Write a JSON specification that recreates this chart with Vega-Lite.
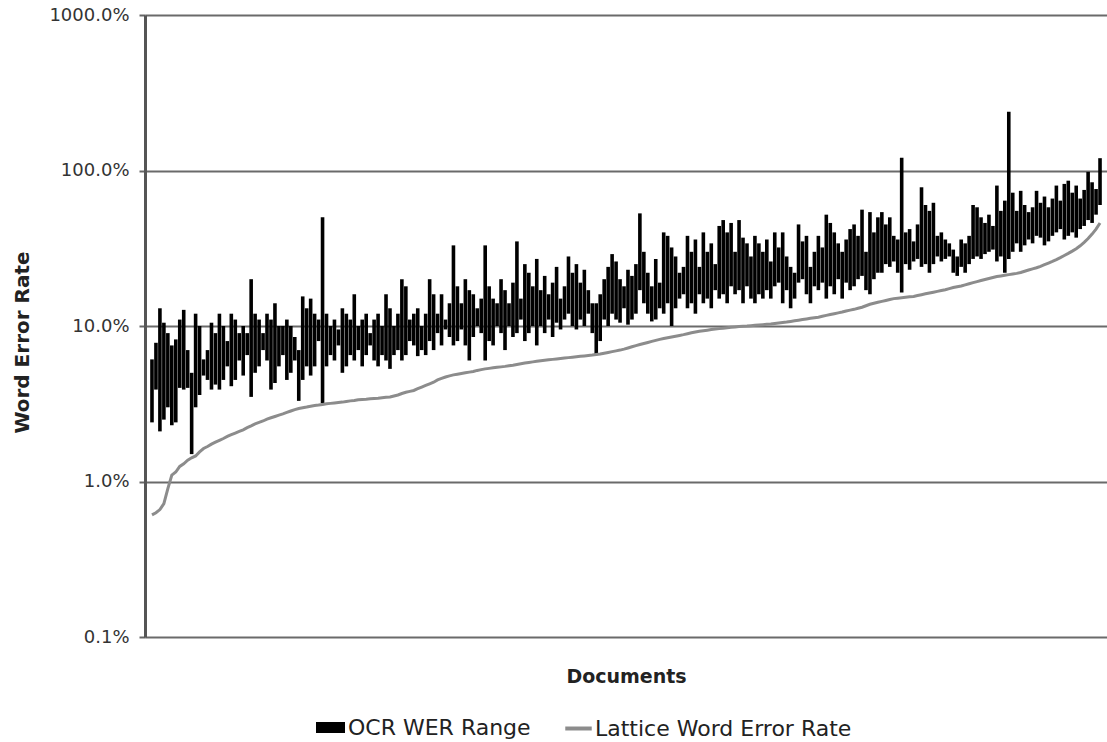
{
"$schema": "https://vega.github.io/schema/vega-lite/v6.json",
"width": 962, "height": 622,
"autosize": {"type": "none"},
"padding": {"left": 145, "top": 15, "right": 0, "bottom": 105},
"config": {"view": {"stroke": null}, "font": "DejaVu Sans"},
"data": {"values": [
{"d":1,"lat":0.61,"lo":2.4,"hi":6.1},{"d":2,"lat":0.63,"lo":3.9,"hi":7.8},{"d":3,"lat":0.66,"lo":2.1,"hi":13},{"d":4,"lat":0.72,"lo":2.5,"hi":10.5},{"d":5,"lat":0.9,"lo":3.0,"hi":9.0},
{"d":6,"lat":1.1,"lo":2.3,"hi":7.5},{"d":7,"lat":1.15,"lo":2.4,"hi":8.2},{"d":8,"lat":1.25,"lo":4.0,"hi":11},{"d":9,"lat":1.3,"lo":3.9,"hi":12.7},{"d":10,"lat":1.37,"lo":4.0,"hi":7.0},
{"d":11,"lat":1.42,"lo":1.5,"hi":5.0},{"d":12,"lat":1.46,"lo":3.0,"hi":12},{"d":13,"lat":1.55,"lo":3.6,"hi":10},{"d":14,"lat":1.63,"lo":4.8,"hi":6.1},{"d":15,"lat":1.68,"lo":4.5,"hi":7},
{"d":16,"lat":1.74,"lo":3.9,"hi":10.5},{"d":17,"lat":1.79,"lo":4.2,"hi":9},{"d":18,"lat":1.84,"lo":3.9,"hi":12},{"d":19,"lat":1.89,"lo":4.5,"hi":10},{"d":20,"lat":1.95,"lo":5.5,"hi":8},
{"d":21,"lat":2.0,"lo":4.1,"hi":12},{"d":22,"lat":2.05,"lo":4.5,"hi":11},{"d":23,"lat":2.1,"lo":6.0,"hi":9},{"d":24,"lat":2.15,"lo":4.8,"hi":10},{"d":25,"lat":2.22,"lo":6.5,"hi":9},
{"d":26,"lat":2.28,"lo":3.5,"hi":20},{"d":27,"lat":2.35,"lo":5.0,"hi":12},{"d":28,"lat":2.4,"lo":5.5,"hi":11},{"d":29,"lat":2.45,"lo":7.0,"hi":9},{"d":30,"lat":2.52,"lo":6.0,"hi":12},
{"d":31,"lat":2.57,"lo":3.9,"hi":11},{"d":32,"lat":2.62,"lo":4.3,"hi":14},{"d":33,"lat":2.67,"lo":5.5,"hi":10},{"d":34,"lat":2.72,"lo":6.5,"hi":10},{"d":35,"lat":2.78,"lo":4.5,"hi":11},
{"d":36,"lat":2.84,"lo":5.0,"hi":10},{"d":37,"lat":2.9,"lo":6.0,"hi":8.5},{"d":38,"lat":2.95,"lo":3.3,"hi":7},{"d":39,"lat":2.98,"lo":4.5,"hi":15.5},{"d":40,"lat":3.01,"lo":5.5,"hi":13},
{"d":41,"lat":3.05,"lo":4.8,"hi":15},{"d":42,"lat":3.08,"lo":5.5,"hi":12},{"d":43,"lat":3.1,"lo":8.0,"hi":11},{"d":44,"lat":3.13,"lo":3.2,"hi":50},{"d":45,"lat":3.16,"lo":5.5,"hi":12},
{"d":46,"lat":3.18,"lo":6.5,"hi":10},{"d":47,"lat":3.2,"lo":6.0,"hi":11},{"d":48,"lat":3.22,"lo":7.5,"hi":9.5},{"d":49,"lat":3.24,"lo":5.0,"hi":13},{"d":50,"lat":3.27,"lo":5.5,"hi":12},
{"d":51,"lat":3.3,"lo":6.5,"hi":11},{"d":52,"lat":3.32,"lo":6.0,"hi":16},{"d":53,"lat":3.35,"lo":7.0,"hi":10},{"d":54,"lat":3.37,"lo":5.5,"hi":11},{"d":55,"lat":3.38,"lo":6.5,"hi":12},
{"d":56,"lat":3.4,"lo":7.5,"hi":9},{"d":57,"lat":3.42,"lo":6.0,"hi":11},{"d":58,"lat":3.43,"lo":5.5,"hi":12},{"d":59,"lat":3.46,"lo":6.5,"hi":10},{"d":60,"lat":3.48,"lo":6.0,"hi":16},
{"d":61,"lat":3.5,"lo":5.3,"hi":13},{"d":62,"lat":3.55,"lo":6.5,"hi":10},{"d":63,"lat":3.6,"lo":7.0,"hi":12},{"d":64,"lat":3.68,"lo":6.0,"hi":20},{"d":65,"lat":3.75,"lo":6.5,"hi":18},
{"d":66,"lat":3.8,"lo":8.0,"hi":11},{"d":67,"lat":3.85,"lo":7.5,"hi":12},{"d":68,"lat":3.95,"lo":6.4,"hi":13},{"d":69,"lat":4.05,"lo":7.0,"hi":10},{"d":70,"lat":4.15,"lo":6.5,"hi":12},
{"d":71,"lat":4.25,"lo":8.0,"hi":20},{"d":72,"lat":4.35,"lo":7.0,"hi":16},{"d":73,"lat":4.5,"lo":9.0,"hi":12},{"d":74,"lat":4.6,"lo":7.5,"hi":16},{"d":75,"lat":4.7,"lo":9.5,"hi":11},
{"d":76,"lat":4.78,"lo":8.5,"hi":14},{"d":77,"lat":4.85,"lo":7.5,"hi":33},{"d":78,"lat":4.9,"lo":8.0,"hi":18},{"d":79,"lat":4.95,"lo":9.5,"hi":14},{"d":80,"lat":5.0,"lo":7.5,"hi":20},
{"d":81,"lat":5.05,"lo":6.0,"hi":17},{"d":82,"lat":5.1,"lo":8.5,"hi":16},{"d":83,"lat":5.18,"lo":10,"hi":13},{"d":84,"lat":5.24,"lo":9.0,"hi":15},{"d":85,"lat":5.3,"lo":6.0,"hi":33},
{"d":86,"lat":5.34,"lo":8.0,"hi":18},{"d":87,"lat":5.38,"lo":7.5,"hi":15},{"d":88,"lat":5.42,"lo":10,"hi":14},{"d":89,"lat":5.46,"lo":9.0,"hi":20},{"d":90,"lat":5.5,"lo":7.0,"hi":17},
{"d":91,"lat":5.55,"lo":10,"hi":14},{"d":92,"lat":5.6,"lo":8.5,"hi":19},{"d":93,"lat":5.66,"lo":9.0,"hi":35},{"d":94,"lat":5.72,"lo":11,"hi":15},{"d":95,"lat":5.78,"lo":8.0,"hi":25},
{"d":96,"lat":5.83,"lo":9.0,"hi":22},{"d":97,"lat":5.88,"lo":10,"hi":18},{"d":98,"lat":5.93,"lo":7.5,"hi":27},{"d":99,"lat":5.98,"lo":10,"hi":17},{"d":100,"lat":6.02,"lo":9.0,"hi":21},
{"d":101,"lat":6.06,"lo":11,"hi":16},{"d":102,"lat":6.1,"lo":8.5,"hi":19},{"d":103,"lat":6.14,"lo":10.5,"hi":24},{"d":104,"lat":6.18,"lo":9.5,"hi":15},{"d":105,"lat":6.22,"lo":11,"hi":18},
{"d":106,"lat":6.26,"lo":12,"hi":28},{"d":107,"lat":6.3,"lo":10,"hi":22},{"d":108,"lat":6.34,"lo":9.5,"hi":25},{"d":109,"lat":6.38,"lo":11,"hi":19},{"d":110,"lat":6.42,"lo":10,"hi":23},
{"d":111,"lat":6.46,"lo":12,"hi":17},{"d":112,"lat":6.5,"lo":9.0,"hi":14},{"d":113,"lat":6.55,"lo":6.5,"hi":14},{"d":114,"lat":6.6,"lo":8.0,"hi":16},{"d":115,"lat":6.68,"lo":11,"hi":20},
{"d":116,"lat":6.76,"lo":10,"hi":24},{"d":117,"lat":6.84,"lo":12,"hi":29},{"d":118,"lat":6.92,"lo":11,"hi":26},{"d":119,"lat":7.0,"lo":10.5,"hi":20},{"d":120,"lat":7.1,"lo":13,"hi":18},
{"d":121,"lat":7.22,"lo":10.2,"hi":23},{"d":122,"lat":7.35,"lo":11,"hi":21},{"d":123,"lat":7.48,"lo":12,"hi":25},{"d":124,"lat":7.6,"lo":17,"hi":53},{"d":125,"lat":7.72,"lo":14,"hi":30},
{"d":126,"lat":7.84,"lo":12,"hi":22},{"d":127,"lat":7.96,"lo":10.7,"hi":18},{"d":128,"lat":8.08,"lo":11,"hi":27},{"d":129,"lat":8.2,"lo":13,"hi":19},{"d":130,"lat":8.3,"lo":12,"hi":40},
{"d":131,"lat":8.4,"lo":14,"hi":38},{"d":132,"lat":8.5,"lo":10,"hi":32},{"d":133,"lat":8.6,"lo":13,"hi":28},{"d":134,"lat":8.7,"lo":15,"hi":22},{"d":135,"lat":8.8,"lo":16,"hi":24},
{"d":136,"lat":8.92,"lo":13,"hi":38},{"d":137,"lat":9.05,"lo":14,"hi":30},{"d":138,"lat":9.15,"lo":12,"hi":36},{"d":139,"lat":9.25,"lo":16,"hi":24},{"d":140,"lat":9.33,"lo":14,"hi":40},
{"d":141,"lat":9.4,"lo":15,"hi":30},{"d":142,"lat":9.48,"lo":13,"hi":34},{"d":143,"lat":9.55,"lo":17,"hi":25},{"d":144,"lat":9.62,"lo":15,"hi":44},{"d":145,"lat":9.68,"lo":16,"hi":48},
{"d":146,"lat":9.74,"lo":14,"hi":40},{"d":147,"lat":9.8,"lo":18,"hi":46},{"d":148,"lat":9.86,"lo":16,"hi":30},{"d":149,"lat":9.92,"lo":17,"hi":48},{"d":150,"lat":9.97,"lo":14,"hi":37},
{"d":151,"lat":10.0,"lo":18,"hi":34},{"d":152,"lat":10.05,"lo":15,"hi":28},{"d":153,"lat":10.1,"lo":14,"hi":38},{"d":154,"lat":10.15,"lo":16,"hi":34},{"d":155,"lat":10.2,"lo":15,"hi":30},
{"d":156,"lat":10.25,"lo":17,"hi":36},{"d":157,"lat":10.3,"lo":15,"hi":26},{"d":158,"lat":10.38,"lo":18,"hi":40},{"d":159,"lat":10.45,"lo":19,"hi":32},{"d":160,"lat":10.52,"lo":14,"hi":40},
{"d":161,"lat":10.6,"lo":17,"hi":28},{"d":162,"lat":10.7,"lo":13,"hi":24},{"d":163,"lat":10.8,"lo":15,"hi":22},{"d":164,"lat":10.9,"lo":19,"hi":45},{"d":165,"lat":11.0,"lo":20,"hi":35},
{"d":166,"lat":11.1,"lo":16,"hi":38},{"d":167,"lat":11.2,"lo":14,"hi":24},{"d":168,"lat":11.3,"lo":18,"hi":30},{"d":169,"lat":11.4,"lo":17,"hi":38},{"d":170,"lat":11.55,"lo":19,"hi":32},
{"d":171,"lat":11.7,"lo":15,"hi":52},{"d":172,"lat":11.85,"lo":18,"hi":46},{"d":173,"lat":12.0,"lo":16,"hi":40},{"d":174,"lat":12.15,"lo":20,"hi":34},{"d":175,"lat":12.3,"lo":15,"hi":30},
{"d":176,"lat":12.5,"lo":19,"hi":36},{"d":177,"lat":12.65,"lo":17,"hi":42},{"d":178,"lat":12.8,"lo":18,"hi":45},{"d":179,"lat":13.0,"lo":20,"hi":38},{"d":180,"lat":13.2,"lo":21,"hi":56},
{"d":181,"lat":13.5,"lo":17,"hi":30},{"d":182,"lat":13.8,"lo":16,"hi":54},{"d":183,"lat":14.0,"lo":20,"hi":40},{"d":184,"lat":14.2,"lo":22,"hi":50},{"d":185,"lat":14.4,"lo":22,"hi":54},
{"d":186,"lat":14.6,"lo":25,"hi":45},{"d":187,"lat":14.8,"lo":24,"hi":50},{"d":188,"lat":15.0,"lo":26,"hi":38},{"d":189,"lat":15.1,"lo":22,"hi":36},{"d":190,"lat":15.2,"lo":16.4,"hi":121},
{"d":191,"lat":15.3,"lo":25,"hi":40},{"d":192,"lat":15.4,"lo":23,"hi":42},{"d":193,"lat":15.5,"lo":26,"hi":35},{"d":194,"lat":15.7,"lo":27,"hi":45},{"d":195,"lat":15.9,"lo":24,"hi":78},
{"d":196,"lat":16.1,"lo":25,"hi":60},{"d":197,"lat":16.3,"lo":22,"hi":55},{"d":198,"lat":16.5,"lo":25,"hi":62},{"d":199,"lat":16.7,"lo":28,"hi":38},{"d":200,"lat":16.9,"lo":26,"hi":40},
{"d":201,"lat":17.1,"lo":27,"hi":36},{"d":202,"lat":17.4,"lo":28,"hi":34},{"d":203,"lat":17.7,"lo":22,"hi":31},{"d":204,"lat":17.9,"lo":21,"hi":28},{"d":205,"lat":18.1,"lo":24,"hi":36},
{"d":206,"lat":18.4,"lo":22,"hi":34},{"d":207,"lat":18.7,"lo":25,"hi":38},{"d":208,"lat":19.0,"lo":27,"hi":60},{"d":209,"lat":19.3,"lo":28,"hi":58},{"d":210,"lat":19.6,"lo":27,"hi":50},
{"d":211,"lat":19.9,"lo":29,"hi":46},{"d":212,"lat":20.2,"lo":30,"hi":52},{"d":213,"lat":20.5,"lo":31,"hi":44},{"d":214,"lat":20.8,"lo":26,"hi":80},{"d":215,"lat":21.0,"lo":28,"hi":55},
{"d":216,"lat":21.2,"lo":22,"hi":64},{"d":217,"lat":21.4,"lo":27,"hi":239},{"d":218,"lat":21.6,"lo":30,"hi":72},{"d":219,"lat":21.8,"lo":34,"hi":55},{"d":220,"lat":22.1,"lo":30,"hi":74},
{"d":221,"lat":22.5,"lo":33,"hi":60},{"d":222,"lat":22.9,"lo":36,"hi":54},{"d":223,"lat":23.3,"lo":34,"hi":58},{"d":224,"lat":23.7,"lo":38,"hi":74},{"d":225,"lat":24.2,"lo":37,"hi":62},
{"d":226,"lat":24.8,"lo":33,"hi":68},{"d":227,"lat":25.4,"lo":35,"hi":58},{"d":228,"lat":26.0,"lo":38,"hi":66},{"d":229,"lat":26.7,"lo":40,"hi":80},{"d":230,"lat":27.5,"lo":42,"hi":64},
{"d":231,"lat":28.4,"lo":36,"hi":82},{"d":232,"lat":29.3,"lo":38,"hi":86},{"d":233,"lat":30.3,"lo":40,"hi":72},{"d":234,"lat":31.4,"lo":37,"hi":80},{"d":235,"lat":32.8,"lo":42,"hi":66},
{"d":236,"lat":34.5,"lo":44,"hi":75},{"d":237,"lat":36.5,"lo":48,"hi":98},{"d":238,"lat":39,"lo":46,"hi":84},{"d":239,"lat":42,"lo":52,"hi":76},{"d":240,"lat":46,"lo":60,"hi":120}
]},
"encoding": {
  "x": {"field": "d", "type": "quantitative", "scale": {"domain": [0.5, 240.5], "nice": false, "zero": false},
        "axis": {"title": "Documents", "labels": false, "ticks": false, "domain": false, "grid": false,
                 "titleFont": "DejaVu Sans", "titleFontSize": 19, "titleFontWeight": "bold", "titleColor": "#222",
                 "titleX": 481, "titleY": 39, "titleBaseline": "middle", "titleAlign": "center"}}
},
"layer": [
  {"mark": {"type": "bar", "size": 3.6},
   "encoding": {
     "y": {"field": "lo", "type": "quantitative",
           "scale": {"type": "log", "domain": [0.1, 1000], "nice": false},
           "axis": {"title": "Word Error Rate", "values": [0.1, 1, 10, 100, 1000],
                    "labelExpr": "format(datum.value, '.1f') + '%'",
                    "labelFont": "DejaVu Sans", "labelFontSize": 18, "labelColor": "#333", "labelPadding": 10,
                    "tickSize": 6, "tickColor": "#666", "tickWidth": 2,
                    "domainColor": "#555", "domainWidth": 3,
                    "grid": true, "gridColor": "#6a6a6a", "gridWidth": 2,
                    "titleFont": "DejaVu Sans", "titleFontSize": 20, "titleFontWeight": "bold", "titleColor": "#222",
                    "titleX": -123, "titleY": 327, "titleAngle": -90, "titleBaseline": "middle", "titleAlign": "center"}},
     "y2": {"field": "hi"},
     "fill": {"datum": "OCR WER Range", "type": "nominal", "scale": {"range": ["#000000"]},
              "legend": {"title": null, "orient": "none", "legendX": 171, "legendY": 698,
                         "symbolType": "M-1,-0.38H1V0.38H-1Z", "symbolSize": 841, "symbolStrokeWidth": 0,
                         "symbolFillColor": "#000000", "labelFont": "DejaVu Sans", "labelFontSize": 22,
                         "labelColor": "#222", "labelOffset": 3, "labelLimit": 400}}
   }},
  {"mark": {"type": "line", "strokeWidth": 3},
   "encoding": {
     "y": {"field": "lat", "type": "quantitative"},
     "stroke": {"datum": "Lattice Word Error Rate", "type": "nominal", "scale": {"range": ["#8c8c8c"]},
                "legend": {"title": null, "orient": "none", "legendX": 418, "legendY": 698,
                           "symbolType": "stroke", "symbolSize": 700, "symbolStrokeWidth": 4,
                           "labelFont": "DejaVu Sans", "labelFontSize": 22, "labelColor": "#222", "labelOffset": 1, "labelLimit": 400}}
   }}
]
}
